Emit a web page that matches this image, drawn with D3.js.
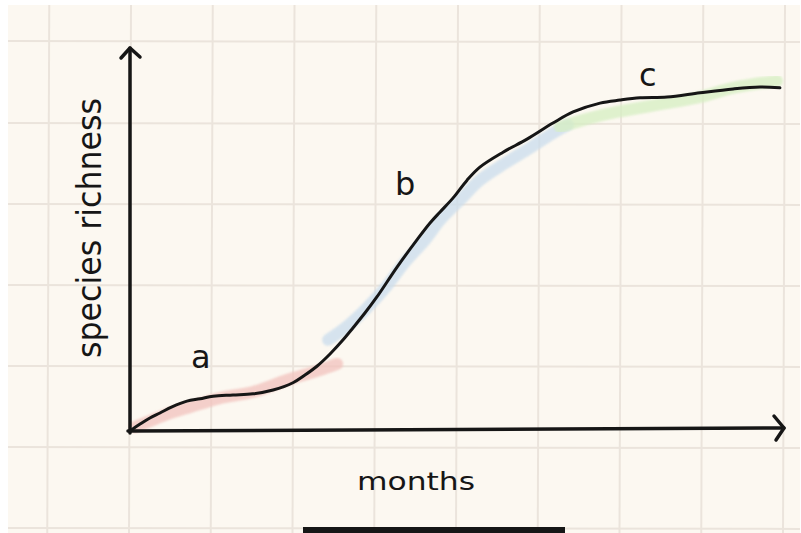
<!DOCTYPE html>
<html>
<head>
<meta charset="utf-8">
<script src="https://cdn.jsdelivr.net/npm/d3@7"></script>
<style>
  html, body { margin: 0; padding: 0; background: #ffffff; }
  svg { display: block; }
</style>
</head>
<body>
<svg id="chart" width="801" height="533"></svg>
<script>
// ---- data (months vs species richness) ----
const months   = [0, 0.37, 0.73, 1.10, 1.54, 2.09, 2.57, 3.05, 3.78, 4.51, 5.25, 5.98, 6.42, 6.86, 7.34, 7.82, 8.18, 8.62, 9.06, 9.80, 10.53, 11.01, 11.38, 11.85, 12.37, 12.84, 13.69, 14.57, 15.52, 16.26, 17.25, 17.98, 18.72, 19.71, 20.92, 22.13, 23.12, 23.85];
const richness = [0, 1.8, 3.4, 4.7, 6.3, 7.8, 8.4, 9.1, 9.4, 9.7, 10.7, 12.6, 14.6, 16.9, 20.1, 23.8, 26.9, 30.8, 35.0, 42.8, 49.9, 54.3, 57.2, 60.8, 65.5, 68.9, 72.8, 76.2, 80.4, 83.3, 85.6, 86.4, 87.0, 87.2, 88.3, 89.3, 89.8, 89.6];

// phase highlight strokes
const phaseA_months = [0.18, 0.84, 1.47, 2.09, 3.30, 4.51, 5.76, 6.97, 7.60];
const phaseA_rich   = [1.0, 2.9, 4.7, 6.0, 8.6, 10.2, 13.3, 15.9, 17.5];
const phaseB_months = [7.27, 7.89, 8.62, 9.36, 10.09, 10.83, 11.38, 12.11, 12.84, 13.76, 14.68, 15.60, 16.07];
const phaseB_rich   = [23.8, 26.9, 31.6, 37.3, 44.1, 49.9, 55.1, 60.3, 65.5, 69.9, 73.9, 78.1, 79.9];
const phaseC_months = [15.78, 16.88, 17.87, 19.71, 20.92, 22.13, 23.74];
const phaseC_rich   = [79.4, 81.7, 83.3, 85.6, 87.2, 89.6, 91.4];

const phaseLabels = ["a", "b", "c"];
const phaseLabelMonths = [2.6, 10.1, 19.0];
const phaseLabelRich   = [16.5, 61.5, 90.0];

const gridMonths = [-3, 0, 3, 6, 9, 12, 15, 18, 21, 24];
const gridRich   = [-25.3, -4.2, 17.0, 38.1, 59.3, 80.4, 101.8];

const xTitle = "months";
const yTitle = "species richness";

// ---- layout ----
const W = 801, H = 533;
const x = d3.scaleLinear().domain([0, 24]).range([130, 784]);
const y = d3.scaleLinear().domain([0, 100]).range([431, 48]);

const svg = d3.select("#chart");
const defs = svg.append("defs");
defs.append("filter").attr("id", "soft").attr("x", "-10%").attr("y", "-10%").attr("width", "120%").attr("height", "120%")
  .append("feGaussianBlur").attr("stdDeviation", 1.3);

// paper
svg.append("rect").attr("x", 0).attr("y", 0).attr("width", W).attr("height", H).attr("fill", "#ffffff");
svg.append("rect").attr("x", 8).attr("y", 5).attr("width", W - 9).attr("height", H - 5).attr("fill", "#fcf8f1");

const paper = svg.append("g");
paper.selectAll("line.gv").data(gridMonths).join("line")
  .attr("class", "gv")
  .attr("x1", d => x(d) + 1).attr("x2", d => x(d) - 1)
  .attr("y1", 5).attr("y2", H)
  .attr("stroke", "#ebe4dc").attr("stroke-width", 2);
paper.selectAll("line.gh").data(gridRich).join("line")
  .attr("class", "gh")
  .attr("x1", 8).attr("x2", W - 1)
  .attr("y1", d => y(d)).attr("y2", d => y(d) + 1)
  .attr("stroke", "#ebe4dc").attr("stroke-width", 2);

// highlight strokes
const line = d3.line().x(d => x(d[0])).y(d => y(d[1])).curve(d3.curveCatmullRom.alpha(0.5));
const phases = [
  {m: phaseA_months, r: phaseA_rich, c: "#f2c2bd"},
  {m: phaseB_months, r: phaseB_rich, c: "#cadded"},
  {m: phaseC_months, r: phaseC_rich, c: "#d6efc2"}
];
phases.forEach(p => {
  svg.append("path")
    .datum(p.m.map((m, i) => [m, p.r[i]]))
    .attr("d", line)
    .attr("fill", "none")
    .attr("stroke", p.c)
    .attr("stroke-width", 12)
    .attr("stroke-linecap", "round")
    .attr("stroke-linejoin", "round")
    .attr("opacity", 0.75)
    .attr("filter", "url(#soft)");
});

// axes
const ink = "#161616";
const axisG = svg.append("g").attr("stroke", ink).attr("fill", "none")
  .attr("stroke-linecap", "round").attr("stroke-linejoin", "round");
const yTop = y(100), x0 = x(0), y0 = y(0), xEnd = x(24);
axisG.append("path").attr("d", `M${x0},${y0 + 2}L${x0},${yTop}`).attr("stroke-width", 3.5);
axisG.append("path").attr("d", `M${x0 - 9},${yTop + 10}L${x0},${yTop}L${x0 + 10},${yTop + 9}`).attr("stroke-width", 3.5);
axisG.append("path").attr("d", `M${x0 - 2},${y0}L${xEnd},${y0 - 3}`).attr("stroke-width", 3.5);
axisG.append("path").attr("d", `M${xEnd - 10},${y0 - 15}L${xEnd},${y0 - 3}L${xEnd - 8},${y0 + 9}`).attr("stroke-width", 3.5);

// main curve
svg.append("path")
  .datum(months.map((m, i) => [m, richness[i]]))
  .attr("d", line)
  .attr("fill", "none")
  .attr("stroke", ink)
  .attr("stroke-width", 3)
  .attr("stroke-linecap", "round")
  .attr("stroke-linejoin", "round");

// phase labels
const font = "'DejaVu Sans', sans-serif";
svg.selectAll("text.ph").data(phaseLabels).join("text")
  .attr("class", "ph")
  .attr("x", (d, i) => x(phaseLabelMonths[i]))
  .attr("y", (d, i) => y(phaseLabelRich[i]))
  .attr("text-anchor", "middle")
  .attr("font-family", font)
  .attr("font-size", 32)
  .attr("fill", ink)
  .text(d => d);

// axis titles
svg.append("text")
  .attr("x", 357).attr("y", 490)
  .attr("font-family", font).attr("font-size", 24).attr("fill", ink)
  .attr("textLength", 118).attr("lengthAdjust", "spacingAndGlyphs")
  .text(xTitle);

svg.append("text")
  .attr("transform", "translate(101,228) rotate(-90)")
  .attr("text-anchor", "middle")
  .attr("font-family", font).attr("font-size", 34).attr("fill", ink)
  .attr("textLength", 260).attr("lengthAdjust", "spacingAndGlyphs")
  .text(yTitle);

// bottom bar
svg.append("line")
  .attr("x1", 303).attr("x2", 565).attr("y1", 530).attr("y2", 530)
  .attr("stroke", ink).attr("stroke-width", 6);
</script>
</body>
</html>
